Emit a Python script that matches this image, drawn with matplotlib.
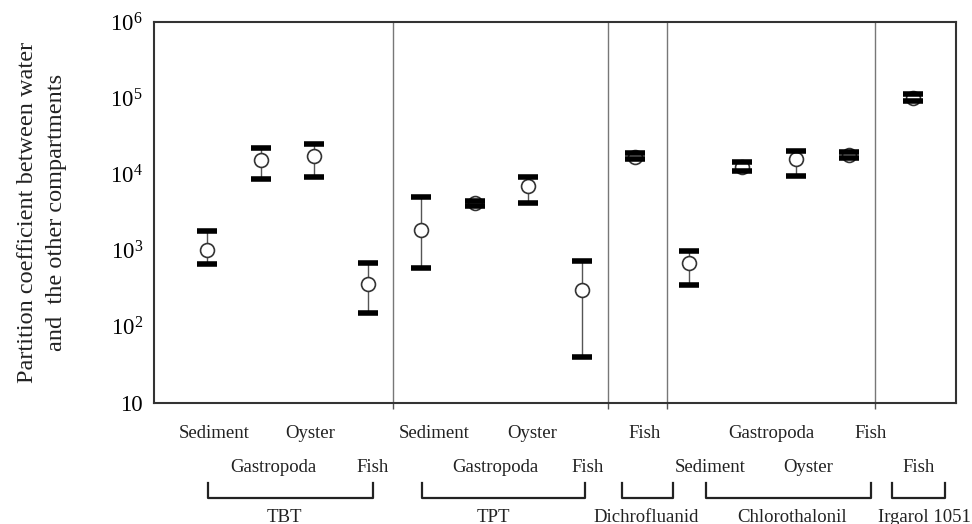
"""
Partition coefficients between water and the other compartments (log scale).
"""
import matplotlib
matplotlib.use("Agg")
import matplotlib.pyplot as plt
import matplotlib.transforms as mtransforms

plt.rcParams['font.family'] = ['Liberation Serif', 'DejaVu Serif']
plt.rcParams['mathtext.fontset'] = 'custom'
plt.rcParams['mathtext.rm'] = 'Liberation Serif'

# data
x_pos = [1, 2, 3, 4, 5, 6, 7, 8, 9, 10, 11, 12, 13, 14.2]
center = [1020, 15500, 17400, 365, 1860, 4180, 7050, 304,
          17100, 681, 12600, 15800, 18000, 101600]
upper = [1820, 22000, 25300, 687, 5000, 4420, 9330, 731,
         18900, 998, 14500, 20500, 19600, 113500]
lower = [667, 8800, 9330, 150, 586, 3900, 4180, 40.6,
         15800, 351, 11100, 9600, 16600, 91000]

separators = [4.47, 8.49, 9.59, 13.48]

row1_labels = ['Sediment', 'Oyster', 'Sediment', 'Oyster', 'Fish', 'Gastropoda', 'Fish']
row1_x = [1.12, 2.93, 5.25, 7.08, 9.18, 11.55, 13.40]
row2_labels = ['Gastropoda', 'Fish', 'Gastropoda', 'Fish', 'Sediment', 'Oyster', 'Fish']
row2_x = [2.24, 4.09, 6.38, 8.11, 10.41, 12.23, 14.30]

groups = ['TBT', 'TPT', 'Dichrofluanid', 'Chlorothalonil', 'Irgarol 1051']
group_x = [2.43, 6.34, 9.20, 11.94, 14.41]
bracket_lo = [1.01, 5.01, 8.75, 10.32, 13.81]
bracket_hi = [4.09, 8.07, 9.70, 13.42, 14.79]


def main():
    fig = plt.figure(figsize=(9.72, 5.24), dpi=100)
    ax = fig.add_axes([0.1584, 0.2309, 0.8251, 0.7271])

    # whisker lines
    ax.vlines(x_pos, lower, upper, color='#555555', lw=1.0, zorder=2)
    # circles
    ax.plot(x_pos, center, 'o', ms=10, mfc='white', mec='#333333', mew=1.2, zorder=3)
    # thick caps
    ax.plot(x_pos, upper, '_', ms=14, mew=4, color='black', zorder=4)
    ax.plot(x_pos, lower, '_', ms=14, mew=4, color='black', zorder=4)

    for s in separators:
        ax.axvline(s, color='#777777', lw=1.0, zorder=1)

    ax.set_yscale('log')
    ax.set_ylim(10, 1e6)
    ax.set_xlim(0, 15)
    ax.set_yticks([10, 1e2, 1e3, 1e4, 1e5, 1e6])
    ax.set_yticklabels(['10', r'$\mathregular{10^{2}}$', r'$\mathregular{10^{3}}$',
                        r'$\mathregular{10^{4}}$', r'$\mathregular{10^{5}}$',
                        r'$\mathregular{10^{6}}$'], fontsize=16.5)
    ax.yaxis.set_minor_locator(matplotlib.ticker.NullLocator())
    ax.tick_params(axis='y', length=0, pad=8)
    ax.set_xticks(separators)
    ax.set_xticklabels([])
    ax.tick_params(axis='x', length=4, width=1, color='#555555', direction='out')

    for sp in ax.spines.values():
        sp.set_color('#333333')
        sp.set_linewidth(1.5)

    ax.set_ylabel('Partition coefficient between water\nand  the other compartments',
                  fontsize=17.5, labelpad=31, linespacing=1.5, color='#222222')

    trans = mtransforms.blended_transform_factory(ax.transData, ax.transAxes)
    for lab, x in zip(row1_labels, row1_x):
        ax.text(x, -0.080, lab, transform=trans, ha='center', va='center',
                fontsize=13.5, color='#222222')
    for lab, x in zip(row2_labels, row2_x):
        ax.text(x, -0.168, lab, transform=trans, ha='center', va='center',
                fontsize=13.5, color='#222222')
    for lab, x, lo, hi in zip(groups, group_x, bracket_lo, bracket_hi):
        ax.plot([lo, lo, hi, hi], [-0.210, -0.250, -0.250, -0.210], transform=trans,
                color='#222222', lw=1.6, clip_on=False)
        ax.text(x, -0.300, lab, transform=trans, ha='center', va='center',
                fontsize=13.5, color='#222222')

    fig.savefig('out.png', dpi=100)


if __name__ == '__main__':
    main()
